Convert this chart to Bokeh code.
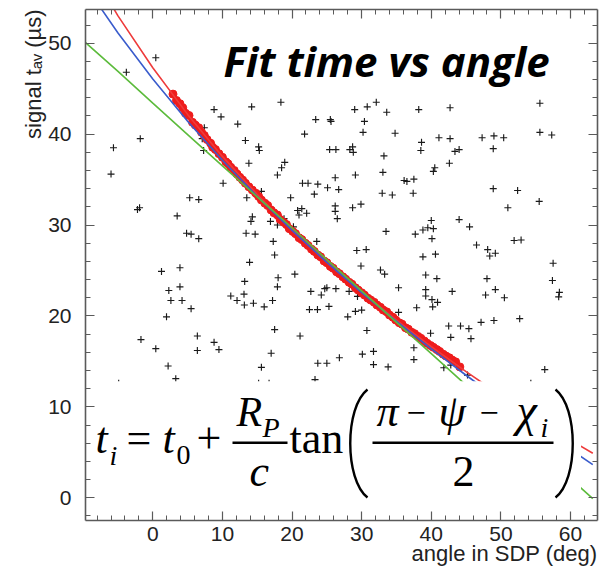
import math
from bokeh.plotting import figure
from bokeh.models import Range1d, LinearAxis, SingleIntervalTicker, Label, Title, CustomJSTickFormatter
from bokeh.embed import file_html
from bokeh.resources import INLINE

# ---------------- data ----------------
bg_x = [0.43, -3.8, -1.8, -5.65, -6.0, 5.3, 6.6,
        -2.2, -1.9, 3.5, 4.85, 5.5, 6.6, 1.25, 3.9, 2.3, 3.9, 2.6, 4.2, 5.5, 1.97, -1.7, 6.4, 0.43, 6.4, 2.2, 3.3,
        18.4, 14.2, 8.8, 9.8, 7.4, 12.2, 13.3, 15.2, 15.3, 13.8, 18.95, 18.5, 17.9, 10.1, 7.3, 15.6, 13.5, 19.8,
        21.8, 23.4, 25.5, 25.6, 29.0, 30.8, 32.1, 33.6, 30.4, 30.2, 34.8, 25.4, 26.3, 28.3, 28.7, 28.8, 33.2,
        33.05, 29.1, 26.2, 21.5, 22.3, 23.7, 25.1, 26.7, 23.2, 32.95, 34.4, 7.1,
        38.2, 42.7, 55.6, 55.6, 57.3, 38.6, 38.5, 41.1, 42.7, 43.4, 44.0, 47.3, 49.0, 50.4, 48.9, 42.6, 40.5,
        40.3, 36.1, 36.5, 37.5, 37.4, 48.9, 52.4, 55.5,
        51.0, 40.0, 44.0, 37.7, 38.8, 39.5, 40.3, 45.5, 40.1, 51.9, 52.9, 46.5, 48.1, 49.2, 48.4, 38.8, 40.6,
        57.5, 39.2, 40.8, 48.0, 57.4, 39.2, 39.2, 40.1, 40.9, 40.2, 43.0, 47.8, 49.2, 50.5, 58.4, 58.3, 37.9,
        47.15, 49.0, 52.7, 42.5, 44.2, 45.4, 39.9, 42.8, 45.7, 37.5, 37.5, 41.8, 42.8, 45.2, 56.3,
        26.2, 26.2, 28.7, 29.9, 26.5, 20.8, 21.4, 21.0, 22.1, 14.3, 14.1, 16.9, 17.9, 18.85, 13.4, 14.7, 17.3,
        23.55, 17.5, 13.9, 29.3, 30.65, 33.5, 29.9, 32.7, 33.3, 20.4, 18.0, 17.9, 13.2, 13.1, 11.2, 12.1, 13.15,
        14.45, 16.0, 17.2, 22.7, 24.2, 24.7, 25.0, 26.3, 25.3, 22.5, 23.65, 28.2, 29.4, 29.1, 30.0, 28.0, 35.3,
        35.3, 17.5, 21.15, 30.75, 8.8, 9.5, 17.0, 26.8, 30.1, 31.7, 23.7, 25.0, 31.7, 33.8, 15.6, 23.3, 20.2,
        -4.9, 15.2, 16.7, 54.3]
bg_y = [48.4, 46.8, 39.5, 38.5, 35.6, 33.0, 32.8,
        31.7, 31.9, 31.0, 29.1, 29.0, 28.5, 24.9, 25.3, 22.8, 23.2, 21.7, 21.7, 20.8, 19.9, 17.4, 17.8, 16.4, 16.2, 14.5, 13.1,
        43.5, 43.0, 42.7, 41.9, 40.7, 41.1, 39.3, 38.6, 38.2, 36.8, 36.9, 36.3, 35.5, 34.6, 38.2, 33.7, 33.0, 33.0,
        40.0, 41.6, 41.6, 41.4, 42.7, 43.0, 43.5, 42.4, 41.4, 40.2, 40.1, 38.3, 38.3, 38.3, 38.6, 38.0, 37.6,
        35.8, 35.5, 35.2, 34.6, 34.6, 34.5, 34.1, 33.9, 33.4, 33.5, 33.3, 39.5,
        42.7, 42.9, 43.4, 40.2, 39.9, 39.1, 38.2, 39.6, 39.5, 38.1, 38.3, 39.6, 39.8, 39.6, 38.4, 36.8, 36.3,
        35.9, 34.9, 34.8, 35.05, 33.5, 34.0, 33.8, 32.6,
        31.9, 30.5, 30.6, 29.0, 29.45, 29.7, 29.6, 29.8, 28.5, 28.3, 28.35, 27.8, 27.3, 26.9, 26.6, 26.5, 26.8,
        25.8, 24.5, 24.1, 24.1, 23.9, 22.9, 22.2, 21.8, 21.5, 21.0, 22.7, 22.3, 22.9, 22.0, 22.6, 22.1, 20.9,
        19.3, 19.5, 19.7, 18.9, 18.9, 18.6, 18.1, 17.65, 17.5, 16.5, 15.2, 14.3, 14.6, 13.5, 14.1,
        32.1, 31.5, 31.9, 32.3, 30.7, 31.6, 31.8, 31.1, 31.3, 30.9, 30.4, 30.4, 30.0, 30.7, 29.1, 29.0, 28.2,
        28.2, 26.7, 25.9, 27.2, 27.3, 29.3, 25.5, 25.05, 24.6, 24.6, 24.2, 23.2, 23.8, 22.4, 22.2, 21.7, 21.2,
        21.4, 21.0, 21.7, 22.7, 22.3, 23.0, 23.1, 23.0, 21.05, 20.7, 20.7, 22.7, 22.15, 20.5, 20.65, 19.9, 23.1,
        20.4, 18.5, 17.8, 18.4, 17.1, 16.3, 15.9, 15.4, 15.8, 16.1, 14.8, 14.8, 14.65, 14.4, 14.35, 13.0, 29.8,
        12.6, 12.6, 12.6, 12.6]

sel_x = [2.9, 3.4, 3.9, 4.3, 4.7, 5.2, 5.7, 6.1, 6.6, 7.0, 7.4, 7.8, 8.3, 8.6, 9.0, 9.5, 10.0, 10.5, 10.8,
         11.2, 11.7, 12.1, 12.5, 12.9, 13.3, 13.8, 14.3, 14.8, 15.2, 15.6, 16.1, 16.5, 17.0, 17.4, 17.9, 18.3,
         18.8, 19.2, 19.6, 20.1, 20.5, 21.0, 21.4, 21.9, 22.3, 22.8, 23.2, 23.7, 24.1, 24.6, 25.0, 25.5, 25.9,
         26.4, 26.8, 27.3, 27.7, 28.2, 28.6, 29.1, 29.5, 30.0, 30.4, 30.9, 31.3, 31.8, 32.2, 32.7, 33.1, 33.6,
         34.0, 34.5, 34.9, 35.4, 35.8, 36.3, 36.7, 37.2, 37.6, 38.1, 38.5, 39.0, 39.4, 39.9, 40.3, 40.8, 41.2,
         41.7, 42.1, 42.6, 43.0, 43.5, 44.1]
sel_y = [44.4, 43.7, 43.35, 42.9, 42.3, 42.05, 41.3, 41.0, 40.7, 40.2, 39.85, 39.4, 39.0, 38.55, 38.3, 37.85,
         37.45, 36.95, 36.75, 36.35, 36.0, 35.6, 35.25, 34.95, 34.6, 34.2, 33.85, 33.5, 33.15, 32.75, 32.4,
         32.15, 31.65, 31.35, 31.1, 30.6, 30.3, 30.05, 29.6, 29.3, 29.05, 28.6, 28.4, 28.0, 27.75, 27.35, 27.1,
         26.7, 26.5, 26.05, 25.85, 25.45, 25.25, 24.85, 24.65, 24.3, 24.05, 23.7, 23.5, 23.1, 22.85, 22.55,
         22.3, 21.95, 21.75, 21.5, 21.2, 20.95, 20.65, 20.45, 20.1, 19.85, 19.55, 19.25, 19.1, 18.7, 18.55,
         18.2, 18.05, 17.75, 17.55, 17.25, 17.0, 16.75, 16.55, 16.3, 16.1, 15.8, 15.6, 15.4, 15.15, 14.95, 14.4]

fit_x = [-10, -5, 0, 5, 10, 15, 20, 25, 30, 35, 40, 45, 50, 55, 60, 63.2]
fit_red = [59.5, 53.0, 47.3, 42.17, 37.55, 33.36, 29.48, 25.95, 22.64, 19.54, 16.63, 13.88, 11.25, 8.74, 6.34, 4.9]
fit_blue = [56.67, 51.12, 46.06, 41.42, 37.13, 33.14, 29.41, 25.9, 22.57, 19.41, 16.38, 13.48, 10.67, 7.95, 5.31, 3.65]
fit_green = [50.3, 46.9, 43.4, 39.95, 36.5, 33.1, 29.7, 26.2, 22.75, 19.3, 15.85, 12.4, 8.95, 5.5, 2.1, -0.1]

x_title = "angle in SDP (deg)"
y_title = "signal t\u2090\u1d65 (\u00b5s)"
plot_title = "Fit time vs angle"

# ---------------- layout helpers (decoration placement only) ----------------
X0, XS = 152.3, 6.962     # pixel of x=0, pixels per degree
Y0, YS = 497.3, 9.092     # pixel of y=0, pixels per microsecond


def X(px):
    return (px - X0) / XS


def Y(py):
    return (Y0 - py) / YS


def YB(py, fs):
    # label anchor so that the alphabetic baseline lands on pixel row py
    return Y(py - 0.36 * fs)


p = figure(width=604, height=572, output_backend="svg", toolbar_location=None,
           x_range=Range1d(X(85), X(597)), y_range=Range1d(Y(520), Y(9)),
           x_axis_type=None, y_axis_type=None,
           min_border_left=85, min_border_right=7, min_border_top=9, min_border_bottom=52)
p.xgrid.visible = False
p.ygrid.visible = False
p.outline_line_color = None
p.background_fill_color = "white"
p.border_fill_color = "white"

AX = "#5a5a5a"


def make_axis(labels):
    ax = LinearAxis(ticker=SingleIntervalTicker(interval=10, num_minor_ticks=5))
    ax.major_tick_in = 9
    ax.major_tick_out = 0
    ax.minor_tick_in = 5
    ax.minor_tick_out = 0
    ax.axis_line_color = AX
    ax.axis_line_width = 1.6
    ax.major_tick_line_color = AX
    ax.minor_tick_line_color = AX
    ax.major_tick_line_width = 1.2
    ax.minor_tick_line_width = 1.0
    if labels:
        ax.major_label_text_font = "Liberation Sans"
        ax.major_label_text_font_size = "21px"
        ax.major_label_text_color = "#222222"
    else:
        ax.formatter = CustomJSTickFormatter(code="return ''")
        ax.major_label_text_font_size = "1px"
        ax.major_label_standoff = 0
    return ax


ax_b = make_axis(True)
ax_b.major_label_standoff = 6
ax_l = make_axis(True)
ax_l.major_label_standoff = 14

label_style = dict(axis_label_text_font="Liberation Sans", axis_label_text_font_size="22px",
                   axis_label_text_font_style="normal", axis_label_text_color="#222222")
aligned = True
try:
    ax_b.axis_label_align = "right"
    ax_l.axis_label_align = "right"
except Exception:
    aligned = False

if aligned:
    ax_b.axis_label = x_title
    ax_l.axis_label = y_title
    ax_b.axis_label_standoff = -5
    ax_l.axis_label_standoff = 3
    for ax in (ax_b, ax_l):
        for k, v in label_style.items():
            setattr(ax, k, v)

p.add_layout(ax_b, "below")
p.add_layout(ax_l, "left")
p.add_layout(make_axis(False), "above")
p.add_layout(make_axis(False), "right")

if not aligned:
    p.add_layout(Title(text=x_title, align="right", text_font="Liberation Sans", text_font_size="22px",
                       text_font_style="normal", text_color="#222222", standoff=-10), "below")
    p.add_layout(Title(text=y_title, align="right", text_font="Liberation Sans", text_font_size="22px",
                       text_font_style="normal", text_color="#222222", standoff=0), "left")

# background entries
p.scatter(bg_x, bg_y, marker="cross", size=7, line_color="#1a1a1a", line_width=1.15)
# selected stations
p.scatter(sel_x, sel_y, marker="circle", size=8, fill_color="#ee1c1c", line_color="#ee1c1c")
# fits
p.line(fit_x, fit_red, line_color="#ee3b3b", line_width=1.6)
p.line(fit_x, fit_blue, line_color="#3a5ccc", line_width=1.6)
p.line(fit_x, fit_green, line_color="#5cbb3c", line_width=1.6)

# white panel carrying the formula
p.quad(left=[X(80)], right=[X(580.5)], bottom=[Y(530)], top=[Y(380.8)],
       fill_color="white", line_color=None)

# fraction bars and big parentheses
p.segment(x0=[X(232), X(372)], y0=[Y(442.3), Y(442.3)], x1=[X(287), X(553)], y1=[Y(442.3), Y(442.3)],
          line_color="black", line_width=2.6)
p.bezier(x0=[X(367), X(555)], y0=[Y(389), Y(389)], x1=[X(367), X(555)], y1=[Y(497), Y(497)],
         cx0=[X(344), X(578)], cy0=[Y(407), Y(407)], cx1=[X(344), X(578)], cy1=[Y(479), Y(479)],
         line_color="black", line_width=2.4)

SERIF = "Liberation Serif"
formula = [
    ("t", 95, 454, 44, "italic"),
    ("i", 109, 465, 28, "italic"),
    ("=", 126, 454, 44, "normal"),
    ("t", 162, 454, 44, "italic"),
    ("0", 176, 465, 28, "normal"),
    ("+", 196, 454, 44, "normal"),
    ("R", 236, 427, 42, "italic"),
    ("P", 262, 437, 28, "italic"),
    ("c", 249, 487, 44, "italic"),
    ("tan", 289, 454, 44, "normal"),
    ("\u03c0", 376, 427, 44, "italic"),
    ("\u2212", 406, 424.5, 34, "normal"),
    ("\u03c8", 438, 427, 44, "italic"),
    ("\u2212", 479, 424.5, 34, "normal"),
    ("\u03c7", 516, 427, 46, "italic"),
    ("i", 540, 437, 28, "italic"),
    ("2", 452, 487, 44, "normal"),
]
for txt, px, py, fs, style in formula:
    p.add_layout(Label(x=X(px), y=YB(py, fs), text=txt, text_font=SERIF, text_font_size=f"{fs}px",
                       text_font_style=style, text_color="black", text_align="left",
                       text_baseline="alphabetic"))

# title
p.add_layout(Label(x=X(223), y=YB(75, 42), text=plot_title, text_font="Open Sans",
                   text_font_size="42px", text_font_style="bold italic", text_color="black",
                   text_baseline="alphabetic"))

open("out.html", "w").write(file_html(p, INLINE))
